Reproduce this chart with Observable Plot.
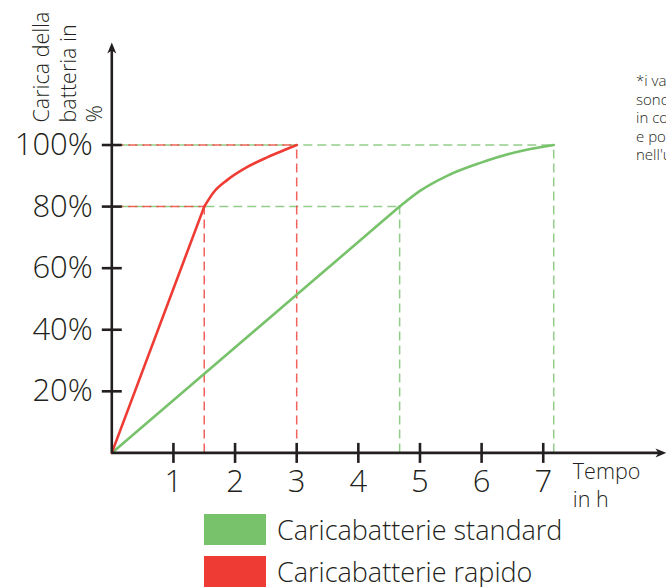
<!DOCTYPE html>
<html>
<head>
<meta charset="utf-8">
<script src="https://cdn.jsdelivr.net/npm/d3@7"></script>
<script src="https://cdn.jsdelivr.net/npm/@observablehq/plot@0.6"></script>
<style>
  html, body { margin: 0; padding: 0; background: #fff; overflow: hidden; }
  #wrap { position: relative; width: 666px; height: 587px; overflow: hidden;
          font-family: "Open Sans", sans-serif; color: #231f20; }
  #note { position: absolute; left: 636px; top: 71px; font-size: 15px; line-height: 18.6px;
          white-space: nowrap; font-weight: 300; }
  #legend { position: absolute; left: 204px; top: 514px; }
  .row { display: flex; align-items: center; height: 31px; margin-bottom: 11px; }
  .sw { width: 62px; height: 31px; margin-right: 11px; flex: none; }
  .lab { font-size: 27px; font-weight: 300; white-space: nowrap; line-height: 31px; }
</style>
</head>
<body>
<div id="wrap">
  <div id="chart"></div>
  <div id="note"></div>
  <div id="legend"></div>
</div>
<script>
// ---- data ----
const xTicks = [1, 2, 3, 4, 5, 6, 7];
const yTicks = [20, 40, 60, 80, 100];
const yTickLabels = ["20%", "40%", "60%", "80%", "100%"];

const seriesNames = ["Caricabatterie standard", "Caricabatterie rapido"];
const seriesColors = ["#77c26b", "#ee3b33"];

// rapid charger: straight rise, then saturating curve (hours, %)
const rapidoLinX = [0, 1.5];
const rapidoLinY = [0, 80];
const rapidoCurveX = [1.5, 1.65, 1.87, 2.2, 2.52, 2.79, 3.0];
const rapidoCurveY = [80, 84.6, 88.6, 92.9, 96.0, 98.3, 100];
// standard charger: straight rise, then saturating curve (hours, %)
const standardLinX = [0, 4.67];
const standardLinY = [0, 80];
const standardCurveX = [4.67, 5.0, 5.44, 5.98, 6.52, 7.17];
const standardCurveY = [80, 85.1, 90, 94.2, 97.5, 100];

// guide points (knee at 80%, full at 100%)
const rapidoGuideX = [1.5, 3.0];
const rapidoGuideY = [80, 100];
const standardGuideX = [4.67, 7.17];
const standardGuideY = [80, 100];

const yTitle = ["Carica della", "batteria in", "%"];
const xTitle = ["Tempo", "in h"];
const noteLines = ["*i valori indicati", "sono puramente indicativi", "in condizioni ottimali", "e possono variare", "nell'uso reale"];

const xMax = 9;
const yMax = 133.3;

// ---- build tables ----
const zip = (X, Y) => X.map((x, i) => ({x, y: Y[i]}));
const rapidoLin = zip(rapidoLinX, rapidoLinY);
const rapidoCurve = zip(rapidoCurveX, rapidoCurveY);
const standardLin = zip(standardLinX, standardLinY);
const standardCurve = zip(standardCurveX, standardCurveY);
const rapidoGuides = zip(rapidoGuideX, rapidoGuideY);
const standardGuides = zip(standardGuideX, standardGuideY);

const ink = "#231f20";
const green = seriesColors[0], red = seriesColors[1];

const vTick = {draw(ctx) { ctx.moveTo(0, -10); ctx.lineTo(0, 10); }};
const hTick = {draw(ctx) { ctx.moveTo(-10, 0); ctx.lineTo(10, 0); }};
const arrowHead = {draw(ctx) {
  ctx.moveTo(0, 0); ctx.lineTo(4.5, 11); ctx.lineTo(0, 8); ctx.lineTo(-4.5, 11); ctx.closePath();
}};

const dash = {strokeWidth: 1.5, strokeDasharray: "9,5", strokeOpacity: 0.8};
const curveStyle = {strokeWidth: 2.6, strokeLinejoin: "round", strokeLinecap: "round"};

const chart = Plot.plot({
  width: 666,
  height: 505,
  marginLeft: 111.3,
  marginRight: 0,
  marginTop: 42,
  marginBottom: 52.6,
  x: {domain: [0, xMax], axis: null},
  y: {domain: [0, yMax], axis: null},
  style: {fontFamily: "'Open Sans', sans-serif", color: ink, background: "#fff", overflow: "visible"},
  marks: [
    // dashed guides
    Plot.ruleY(standardGuides, {y: "y", x1: 0, x2: "x", stroke: green, ...dash, insetLeft: 10}),
    Plot.ruleX(standardGuides, {x: "x", y1: 0, y2: "y", stroke: green, ...dash}),
    Plot.ruleY(rapidoGuides, {y: "y", x1: 0, x2: "x", stroke: red, ...dash, insetLeft: 10, strokeDashoffset: 7}),
    Plot.ruleX(rapidoGuides, {x: "x", y1: 0, y2: "y", stroke: red, ...dash}),
    // curves
    Plot.line(standardLin, {x: "x", y: "y", stroke: green, ...curveStyle}),
    Plot.line(standardCurve, {x: "x", y: "y", stroke: green, ...curveStyle, curve: "monotone-x"}),
    Plot.line(rapidoLin, {x: "x", y: "y", stroke: red, ...curveStyle}),
    Plot.line(rapidoCurve, {x: "x", y: "y", stroke: red, ...curveStyle, curve: "monotone-x"}),
    // axes
    Plot.ruleY([0], {x1: 0, x2: xMax - 0.1, stroke: ink, strokeWidth: 2.6}),
    Plot.ruleX([0], {y1: 0, y2: yMax - 2, stroke: ink, strokeWidth: 2.6}),
    Plot.dot([{x: 0, y: yMax}], {x: "x", y: "y", symbol: arrowHead, fill: ink, stroke: "none", r: 5}),
    Plot.dot([{x: xMax, y: 0}], {x: "x", y: "y", symbol: arrowHead, fill: ink, stroke: "none", r: 5, rotate: 90}),
    // ticks
    Plot.dot(xTicks, {x: d => d, y: 0, symbol: vTick, fill: "none", stroke: ink, strokeWidth: 2.6, r: 5}),
    Plot.dot(yTicks, {x: 0, y: d => d, symbol: hTick, fill: "none", stroke: ink, strokeWidth: 2.6, r: 5}),
    // tick labels
    Plot.text(xTicks, {x: d => d, y: 0, text: d => String(d), dy: 29, fontSize: 31, fontWeight: 300, lineAnchor: "middle", fill: ink}),
    Plot.text(yTicks, {x: 0, y: d => d, text: (d, i) => yTickLabels[i], dx: -19, textAnchor: "end", fontSize: 31, fontWeight: 300, lineAnchor: "middle", fill: ink}),
    // axis titles
    Plot.text([yTitle.join("\n")], {frameAnchor: "top-left", rotate: -90, textAnchor: "start", lineAnchor: "top",
      fontSize: 21.5, fontWeight: 300, lineHeight: 1.22, dx: -81, dy: 80, fill: ink}),
    Plot.text([xTitle.join("\n")], {frameAnchor: "bottom-left", textAnchor: "start", lineAnchor: "top",
      fontSize: 21.5, fontWeight: 300, lineHeight: 1.3, dx: 461, dy: 6, fill: ink})
  ]
});
document.getElementById("chart").appendChild(chart);

document.getElementById("note").innerHTML = noteLines.map(t => `<div>${t}</div>`).join("");
document.getElementById("legend").innerHTML = seriesNames.map((n, i) =>
  `<div class="row"><div class="sw" style="background:${seriesColors[i]}"></div><div class="lab">${n}</div></div>`).join("");
</script>
</body>
</html>
